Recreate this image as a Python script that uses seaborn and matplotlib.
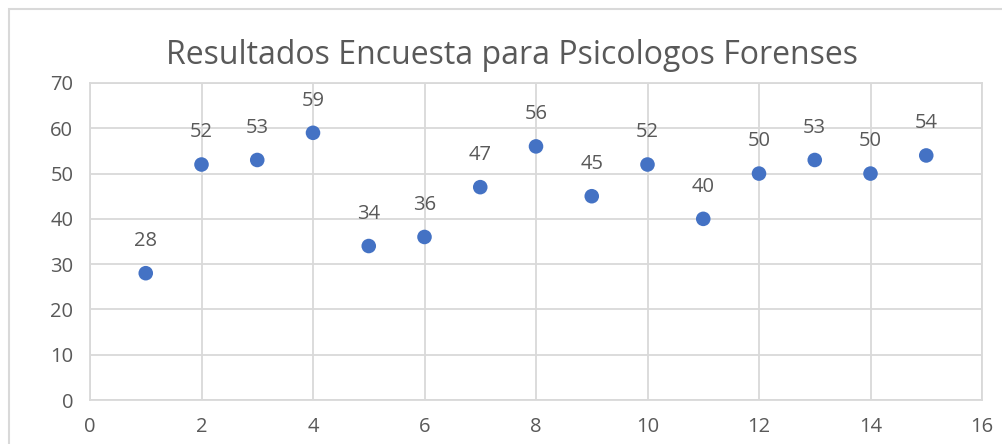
import matplotlib
matplotlib.use("Agg")
import matplotlib.pyplot as plt
import seaborn as sns
import pandas as pd
from matplotlib.patches import Rectangle

# Datos de la encuesta
participantes = [1, 2, 3, 4, 5, 6, 7, 8, 9, 10, 11, 12, 13, 14, 15]
puntajes = [28, 52, 53, 59, 34, 36, 47, 56, 45, 52, 40, 50, 53, 50, 54]
titulo = "Resultados Encuesta para Psicologos Forenses"

df = pd.DataFrame({"x": participantes, "y": puntajes})

sns.set_style("white")
plt.rcParams["font.family"] = ["Open Sans", "DejaVu Sans"]

gris_texto = "#595959"
gris_linea = "#d9d9d9"

fig = plt.figure(figsize=(10.02, 4.44), dpi=100)
ax = fig.add_axes([90 / 1002, 1 - 400 / 444, 892 / 1002, 317 / 444])

sns.scatterplot(data=df, x="x", y="y", ax=ax, color="#4472C4", s=110,
                edgecolor="none", zorder=3)

for xi, yi in zip(participantes, puntajes):
    ax.annotate(str(yi), (xi, yi), xytext=(0, 16), textcoords="offset points",
                ha="center", va="bottom", fontsize=14.5, color=gris_texto)

ax.set_xlim(0, 16)
ax.set_ylim(0, 70)
ax.set_xticks(range(0, 17, 2))
ax.set_yticks(range(0, 71, 10))
ax.grid(True, color=gris_linea, linewidth=1.3)
for s in ax.spines.values():
    s.set_color(gris_linea)
    s.set_linewidth(1.3)
ax.tick_params(axis="both", length=0, labelsize=14.5, labelcolor=gris_texto, pad=12)
ax.set_xlabel("")
ax.set_ylabel("")

fig.text(512 / 1002, 1 - 55 / 444, titulo, ha="center", va="center",
         fontsize=23, color=gris_texto)

# borde exterior del grafico
fig.patches.append(Rectangle((9 / 1002, -0.5), 2, 1.5 - 9 / 444,
                             transform=fig.transFigure, fill=False,
                             edgecolor=gris_linea, linewidth=1.5))

fig.savefig("out.png", dpi=100)
